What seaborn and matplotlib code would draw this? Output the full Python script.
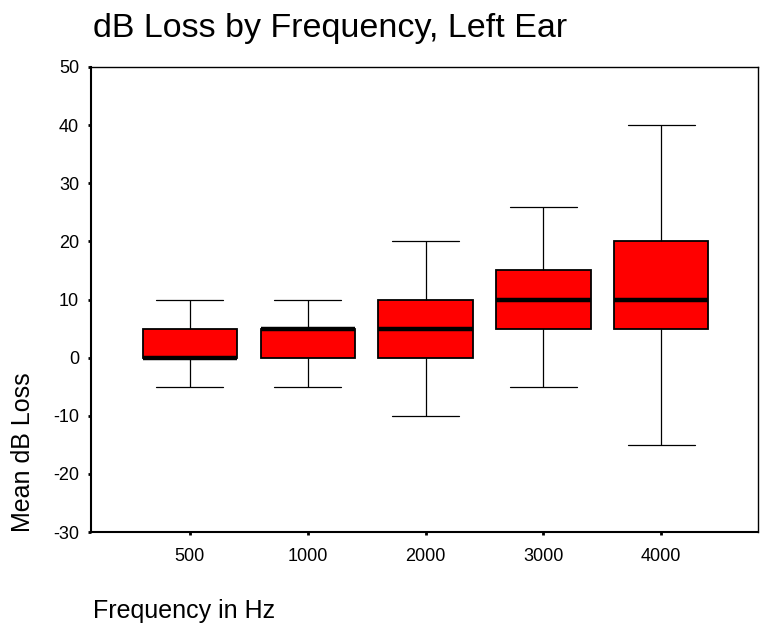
import matplotlib
matplotlib.use("Agg")
import matplotlib.pyplot as plt
import seaborn as sns
import pandas as pd

# ---------- DATA (five-number summary per frequency) ----------
freqs = ["500", "1000", "2000", "3000", "4000"]
mins = [-5, -5, -10, -5, -15]
q1s = [0, 0, 0, 5, 5]
medians = [0, 5, 5, 10, 10]
q3s = [5, 5, 10, 15, 20]
maxs = [10, 10, 20, 26, 40]

rows = []
for i, f in enumerate(freqs):
    for v in [mins[i], q1s[i], medians[i], q3s[i], maxs[i]]:
        rows.append({"Frequency": f, "Loss": v})
df = pd.DataFrame(rows)

# ---------- PLOT ----------
sns.set_theme(style="ticks")
plt.rcParams["font.family"] = ["Liberation Sans", "DejaVu Sans"]
plt.rcParams["text.color"] = "black"
plt.rcParams["axes.unicode_minus"] = False

fig = plt.figure(figsize=(7.64, 6.35), dpi=100)
ax = fig.add_axes([0.119, 0.162, 0.873, 0.7325])

sns.boxplot(
    data=df, x="Frequency", y="Loss", order=freqs, ax=ax,
    whis=(0, 100), width=0.8, color="#ff0000", saturation=1,
    linecolor="black", linewidth=1.0,
    boxprops=dict(facecolor="#ff0000", edgecolor="black", linewidth=1.3),
    medianprops=dict(color="black", linewidth=3.2),
    whiskerprops=dict(color="black", linewidth=0.9),
    capprops=dict(color="black", linewidth=0.9),
    capwidths=0.57,
)

ax.set_ylim(-30, 50)
ax.set_yticks(range(-30, 51, 10))
ax.set_xlim(-0.84, 4.82)
ax.set_xlabel("")
ax.set_ylabel("")

for s in ax.spines.values():
    s.set_visible(True)
    s.set_color("black")
    s.set_linewidth(1.0)
ax.spines["left"].set_linewidth(1.5)
ax.spines["bottom"].set_linewidth(1.5)

ax.tick_params(axis="both", direction="out", length=2.5, width=2,
               color="black", labelsize=13, labelcolor="black")
ax.tick_params(axis="y", pad=6)
ax.tick_params(axis="x", pad=9)

fig.text(0.122, 0.942, "dB Loss by Frequency, Left Ear", fontsize=24.5,
         ha="left", va="baseline", color="black")
fig.text(0.0295, 0.162, "Mean dB Loss", fontsize=18, rotation=90,
         ha="center", va="bottom", color="black")
fig.text(0.122, 0.027, "Frequency in Hz", fontsize=18,
         ha="left", va="baseline", color="black")

fig.savefig("out.png", dpi=100)
